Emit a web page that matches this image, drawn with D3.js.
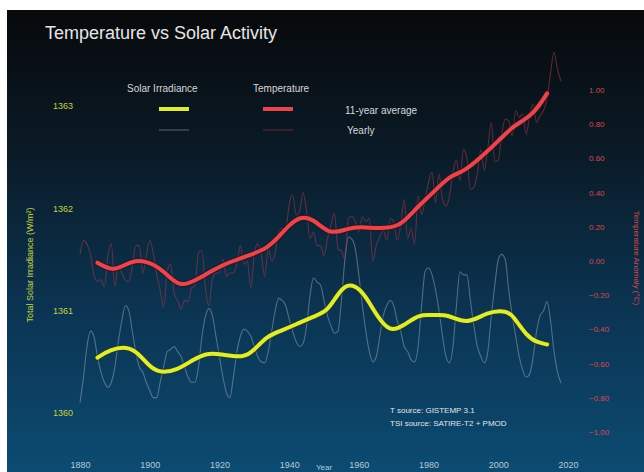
<!DOCTYPE html>
<html><head><meta charset="utf-8">
<script src="https://cdn.jsdelivr.net/npm/d3@7"></script>
<style>body{margin:0;background:#fff}svg{display:block}text{font-family:"Liberation Sans",Arial,sans-serif}</style>
</head><body><svg id="c" width="644" height="472"></svg>
<script>
const years = d3.range(1880, 2019);
const tsiYearly = [1360.10,1360.35,1360.65,1360.80,1360.75,1360.55,1360.40,1360.30,1360.25,1360.30,
1360.45,1360.70,1360.90,1361.05,1361.00,1360.80,1360.60,1360.45,1360.40,1360.30,
1360.22,1360.15,1360.15,1360.30,1360.45,1360.60,1360.62,1360.65,1360.60,1360.55,
1360.45,1360.35,1360.30,1360.30,1360.45,1360.75,1360.95,1361.02,1360.95,1360.75,
1360.55,1360.35,1360.20,1360.15,1360.35,1360.60,1360.75,1360.82,1360.80,1360.75,
1360.65,1360.55,1360.50,1360.49,1360.60,1360.80,1361.00,1361.12,1361.10,1361.05,
1360.92,1360.80,1360.70,1360.65,1360.68,1360.85,1361.15,1361.32,1361.28,1361.25,
1361.10,1360.95,1360.85,1360.78,1360.80,1361.10,1361.50,1361.72,1361.70,1361.60,
1361.35,1361.05,1360.80,1360.60,1360.50,1360.55,1360.75,1360.95,1361.05,1361.10,
1361.05,1360.90,1360.80,1360.65,1360.60,1360.52,1360.50,1360.65,1361.05,1361.38,
1361.42,1361.35,1361.20,1361.00,1360.75,1360.55,1360.49,1360.65,1361.05,1361.38,
1361.35,1361.35,1361.10,1360.85,1360.65,1360.55,1360.49,1360.60,1360.95,1361.25,
1361.50,1361.55,1361.50,1361.20,1360.95,1360.75,1360.55,1360.42,1360.35,1360.38,
1360.55,1360.80,1360.95,1361.00,1361.09,1360.90,1360.60,1360.40,1360.29];
const tempYearly = [0.04,0.12,0.10,0.04,-0.08,-0.12,-0.11,-0.15,0.03,0.10,
-0.15,-0.02,-0.07,-0.11,-0.12,-0.03,0.09,0.09,-0.07,0.03,
0.12,0.05,-0.08,-0.17,-0.27,-0.06,-0.02,-0.19,-0.23,-0.28,
-0.23,-0.24,-0.16,-0.14,0.05,0.06,-0.16,-0.26,-0.10,-0.07,
-0.07,0.01,-0.09,-0.07,-0.07,-0.02,0.09,-0.02,0.00,-0.16,
0.04,0.10,0.04,-0.09,0.07,0.00,0.05,0.17,0.19,0.18,
0.33,0.39,0.27,0.29,0.40,0.29,0.13,0.17,0.09,0.09,
0.03,0.13,0.21,0.28,0.07,0.06,0.01,0.25,0.26,0.23,
0.17,0.26,0.23,0.25,0.00,0.09,0.14,0.18,0.12,0.25,
0.23,0.12,0.21,0.36,0.13,0.19,0.10,0.38,0.27,0.36,
0.46,0.52,0.34,0.51,0.36,0.32,0.38,0.52,0.59,0.47,
0.65,0.60,0.42,0.43,0.51,0.65,0.53,0.66,0.81,0.58,
0.59,0.74,0.83,0.82,0.73,0.88,0.84,0.86,0.74,0.85,
0.92,0.81,0.85,0.88,0.95,1.10,1.22,1.12,1.05];
const tsiAvgYears = [1885,1888.6,1893.5,1896.6,1900,1903,1908,1912.4,1916.4,1921,1926.8,1929.6,1933.6,1937.4,1942.2,1946.8,1950.9,1953.7,1956.6,1960.3,1963,1965.2,1968.9,1972.7,1977.5,1981.3,1985.3,1991,1996.8,2002.5,2004.2,2008.2,2011.1,2014];
const tsiAvg = [1360.54,1360.62,1360.65,1360.59,1360.45,1360.39,1360.42,1360.52,1360.59,1360.57,1360.54,1360.60,1360.75,1360.80,1360.87,1360.94,1360.99,1361.15,1361.27,1361.22,1361.08,1360.95,1360.79,1360.85,1360.97,1360.95,1360.97,1360.86,1360.99,1361.00,1360.95,1360.75,1360.69,1360.67];
const tempAvgYears = [1885,1889.5,1893,1896.6,1901.5,1905,1908.7,1912.4,1916,1920.2,1924,1927.9,1933.6,1937.4,1940,1943.1,1946.8,1951.7,1956.6,1960.3,1966,1971.8,1975.5,1981.3,1986.1,1989.9,1994.7,2000.5,2004.2,2009.9,2014];
const tempAvg = [-0.01,-0.06,-0.02,0.01,-0.02,-0.08,-0.15,-0.12,-0.08,-0.03,0.00,0.03,0.07,0.15,0.21,0.26,0.25,0.15,0.19,0.20,0.19,0.20,0.29,0.40,0.50,0.52,0.60,0.71,0.79,0.85,0.98];
const xTicks = [1880,1900,1920,1940,1960,1980,2000,2020];
const tsiTicks = [1360,1361,1362,1363];
const tempTicks = [1.0,0.8,0.6,0.4,0.2,0.0,-0.2,-0.4,-0.6,-0.8,-1.0];

const svg = d3.select('#c');
const defs = svg.append('defs');
const g = defs.append('linearGradient').attr('id','bg').attr('x1',0).attr('y1',0).attr('x2',0).attr('y2',1);
g.append('stop').attr('offset','0%').attr('stop-color','#07090b');
g.append('stop').attr('offset','30%').attr('stop-color','#0a1a26');
g.append('stop').attr('offset','65%').attr('stop-color','#0b3452');
g.append('stop').attr('offset','100%').attr('stop-color','#0c4b72');
svg.append('rect').attr('x',7).attr('y',10).attr('width',637).attr('height',462).attr('fill','url(#bg)');

const x = d3.scaleLinear().domain([1880,2020]).range([80,568]);
const yT = d3.scaleLinear().domain([1360,1363]).range([413,106]);
const yC = d3.scaleLinear().domain([-1,1]).range([432,90]);

// title
svg.append('text').attr('x',45).attr('y',39).attr('fill','#e6e6e6').attr('font-size',18).text('Temperature vs Solar Activity');

// axes
const ax = svg.append('g').attr('transform','translate(0,462)')
  .call(d3.axisBottom(x).tickValues(xTicks).tickFormat(d3.format('d')).tickSize(0));
ax.select('.domain').remove();
ax.selectAll('text').attr('fill','#b7cad8').attr('font-size',9).attr('dy','0.32em');

const al = svg.append('g').attr('transform','translate(76,0)')
  .call(d3.axisLeft(yT).tickValues(tsiTicks).tickFormat(d3.format('d')).tickSize(0));
al.select('.domain').remove();
al.selectAll('text').attr('fill','#c3cf45').attr('font-size',9);

const ar = svg.append('g').attr('transform','translate(586,0)')
  .call(d3.axisRight(yC).tickValues(tempTicks).tickFormat(d3.format('.2f')).tickSize(0));
ar.select('.domain').remove();
ar.selectAll('text').attr('fill','#d8474f').attr('font-size',8);

svg.append('text').attr('transform','translate(33,265) rotate(-90)').attr('text-anchor','middle')
  .attr('fill','#c3cf45').attr('font-size',9).text('Total Solar Irradiance (W/m²)');
svg.append('text').attr('transform','translate(634,258) rotate(90)').attr('text-anchor','middle')
  .attr('fill','#d8474f').attr('font-size',8).text('Temperature Anomaly (°C)');

// lines
const lineT = d3.line().x((d,i)=>x(years[i])).y(d=>yT(d)).curve(d3.curveMonotoneX);
const lineC = d3.line().x((d,i)=>x(years[i])).y(d=>yC(d)).curve(d3.curveMonotoneX);
svg.append('path').attr('d',lineT(tsiYearly)).attr('fill','none').attr('stroke','#8d9fae').attr('stroke-opacity',0.55).attr('stroke-width',1.1);
svg.append('path').attr('d',lineC(tempYearly)).attr('fill','none').attr('stroke','#a03a4c').attr('stroke-opacity',0.55).attr('stroke-width',1.1);

const avgT = d3.line().x((d,i)=>x(tsiAvgYears[i])).y(d=>yT(d)).curve(d3.curveBasis);
const avgC = d3.line().x((d,i)=>x(tempAvgYears[i])).y(d=>yC(d)).curve(d3.curveBasis);
[[avgT(tsiAvg),'#dcec3c','#2a3a10'],[avgC(tempAvg),'#e4474f','#3a1016']].forEach(([d,c,s])=>{
  svg.append('path').attr('d',d).attr('fill','none').attr('stroke',s).attr('stroke-opacity',0.6).attr('stroke-width',7).attr('stroke-linecap','round');
  svg.append('path').attr('d',d).attr('fill','none').attr('stroke',c).attr('stroke-width',4).attr('stroke-linecap','round');
});

// legend
const lg = svg.append('g');
lg.append('text').attr('x',127).attr('y',92).attr('fill','#d8d8d8').attr('font-size',10).text('Solar Irradiance');
lg.append('text').attr('x',253).attr('y',92).attr('fill','#d8d8d8').attr('font-size',10).text('Temperature');
lg.append('line').attr('x1',159).attr('x2',189).attr('y1',109).attr('y2',109).attr('stroke','#dcec3c').attr('stroke-width',4);
lg.append('line').attr('x1',263).attr('x2',293).attr('y1',109).attr('y2',109).attr('stroke','#e4474f').attr('stroke-width',4);
lg.append('line').attr('x1',159).attr('x2',189).attr('y1',130).attr('y2',130).attr('stroke','#8d9fae').attr('stroke-opacity',0.5).attr('stroke-width',1.2);
lg.append('line').attr('x1',263).attr('x2',293).attr('y1',130).attr('y2',130).attr('stroke','#a03a4c').attr('stroke-opacity',0.5).attr('stroke-width',1.2);
lg.append('text').attr('x',345).attr('y',114).attr('fill','#d8d8d8').attr('font-size',10).text('11-year average');
lg.append('text').attr('x',347).attr('y',134).attr('fill','#d8d8d8').attr('font-size',10).text('Yearly');

// sources
svg.append('text').attr('x',390).attr('y',413).attr('fill','#e0e6ea').attr('font-size',8).text('T source: GISTEMP 3.1');
svg.append('text').attr('x',390).attr('y',426).attr('fill','#e0e6ea').attr('font-size',8).text('TSI source: SATIRE-T2 + PMOD');
svg.append('text').attr('x',324).attr('y',470).attr('text-anchor','middle').attr('fill','#b7cad8').attr('font-size',8).text('Year');
</script></body></html>
